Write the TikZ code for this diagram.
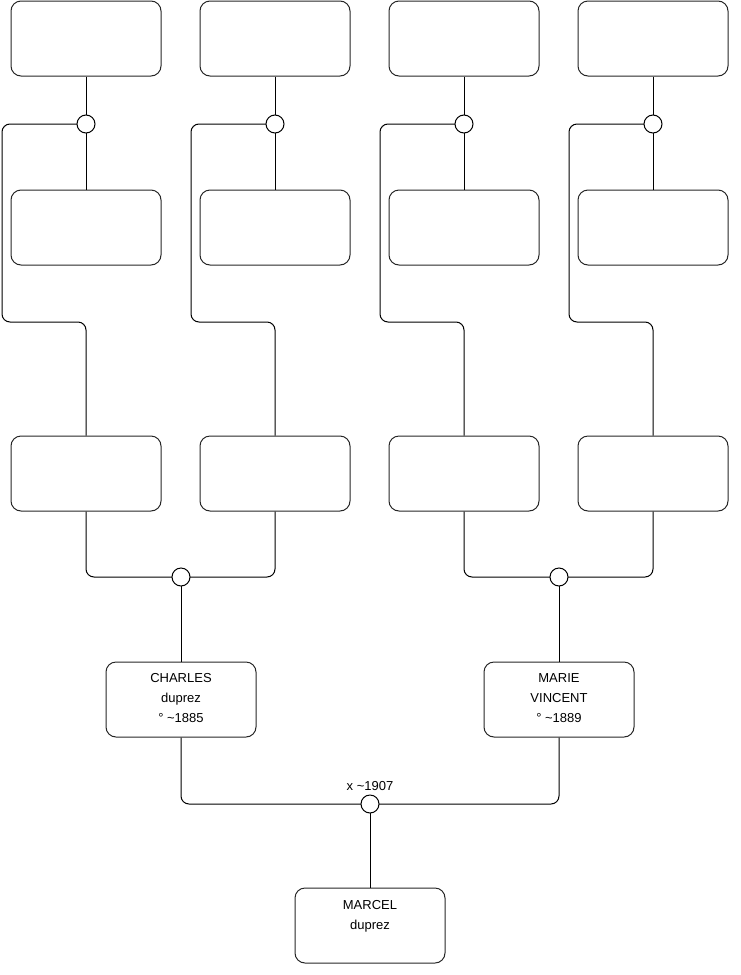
\documentclass[tikz,border=0pt]{standalone}
\usepackage{fontspec}
\setmainfont{Liberation Sans}
\begin{document}
\begin{tikzpicture}[x=1pt,y=-1pt,
  person/.style={draw=black!85, line width=1pt, rounded corners=10pt, minimum width=150pt, minimum height=75pt, inner sep=0pt},
  union/.style={draw=black, line width=1pt, circle, minimum size=18pt, inner sep=0pt, fill=white},
  link/.style={draw=black, line width=1pt, rounded corners=8pt},
  txt/.style={align=center, font=\fontsize{13}{20}\selectfont, inner sep=0pt}]
\useasboundingbox (0,0) rectangle (740,975);
% top row
\foreach \i/\cx in {1/86,2/275,3/464,4/653}{
  \node[person] (t\i) at (\cx,38.5) {};
  \node[person] (m\i) at (\cx,227.5) {};
  \node[person] (g\i) at (\cx,473.5) {};
}
\node[person] (charles) at (181,699.5) {};
\node[person] (marie) at (559,699.5) {};
\node[person] (marcel) at (370,925.5) {};
\node[txt] (charlesT) at (181,698) {CHARLES\\duprez\\° \textasciitilde1885};
\node[txt] (marieT) at (559,698) {MARIE\\VINCENT\\° \textasciitilde1889};
\node[txt] (marcelT) at (370,916.5) {MARCEL\\duprez};
% links in top part
\foreach \i/\cx/\lx in {1/86/2,2/275/191,3/464/380,4/653/569}{
  \coordinate (u\i) at (\cx,124);
  \draw[link] (t\i.south) -- (m\i.north);
  \draw[link] (u\i) -- (\lx,124) -- (\lx,322) -- (\cx,322) -- (g\i.north);
  \node[union] (c\i) at (u\i) {};
}
% grandparents unions
\coordinate (uL) at (181,577);
\coordinate (uR) at (559,577);
\draw[link] (g1.south) -- (86,577) -- (uL);
\draw[link] (g2.south) -- (275,577) -- (uL);
\draw[link] (g3.south) -- (464,577) -- (uR);
\draw[link] (g4.south) -- (653,577) -- (uR);
\draw[link] (uL) -- (charles.north);
\draw[link] (uR) -- (marie.north);
\node[union] (cL) at (uL) {};
\node[union] (cR) at (uR) {};
% parents union
\coordinate (uB) at (370,804);
\draw[link] (charles.south) -- (181,804) -- (uB);
\draw[link] (marie.south) -- (559,804) -- (uB);
\draw[link] (uB) -- (marcel.north);
\node[union] (cB) at (uB) {};
\node[txt] (mar) at (370,786) {x \textasciitilde1907};
\end{tikzpicture}
\end{document}
